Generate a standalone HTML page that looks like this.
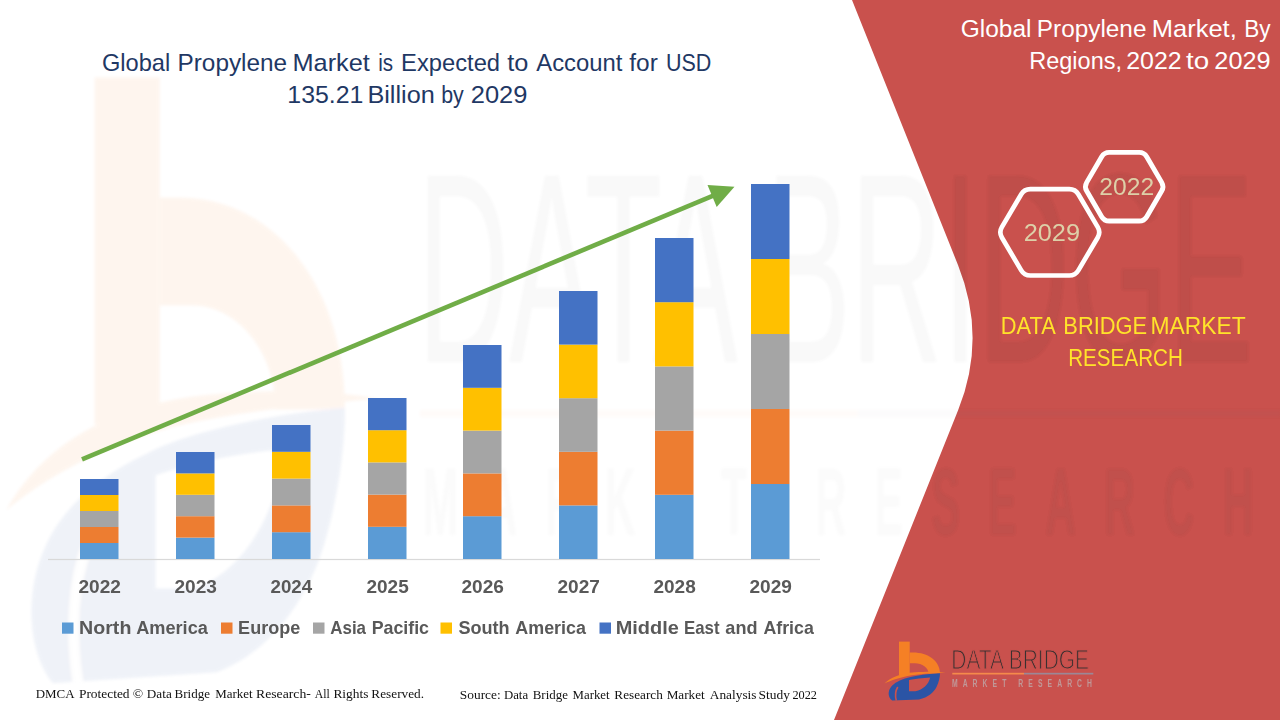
<!DOCTYPE html>
<html><head><meta charset="utf-8"><style>
html,body{margin:0;padding:0;background:#fff;}
body{width:1280px;height:720px;overflow:hidden;position:relative;font-family:"Liberation Sans",sans-serif;}
svg{position:absolute;left:0;top:0;}
</style></head><body>
<svg width="1280" height="720" viewBox="0 0 1280 720">
<defs><filter id="bl" x="-10%" y="-10%" width="120%" height="120%"><feGaussianBlur stdDeviation="1.8"/></filter></defs>
<rect width="1280" height="720" fill="#FFFFFF"/>
<!-- red panel -->
<path d="M852,0 L958,265 Q987.1,337.75 958.2,410 L834,720 L1280,720 L1280,0 Z" fill="#C9514D"/>
<!-- watermark -->
<g opacity="0.07" filter="url(#bl)"><g transform="matrix(6.11,0,0,10.1,-5398.39,-6392.73)">
<rect x="899" y="640.6" width="10.7" height="34.4" fill="#F58025"/>
<path d="M909.7,652.5 L913,652.5 C928,652.5 940,661 940,673.5 L928.6,673.5 C928.6,667.5 922,663.2 915,663.2 L909.7,663.2 Z" fill="#F58025"/>
<path d="M940,673.3 C930,673.8 915,675.5 907.8,677.8 C900,680 894,683 891,687 C887.5,691.5 888,697.5 892.2,700.6 L919,699.5 C928,697.5 934,692 936.5,687 C939,682 940,677 940,673.3 Z M909,680 L909,691.2 L915.5,691.2 C923,689.5 928.5,684.5 930.2,677.4 C922.5,677.8 915,678.7 909,680 Z" fill="#2B54A5" fill-rule="evenodd"/>
<path d="M897.8,687 C895.5,690.5 895,695.5 896.3,700.6" fill="none" stroke="#FFFFFF" stroke-width="1.6"/>
<path d="M884.5,683.5 C890,677.5 900,673.5 915,672.2 C928,671.3 938,671.6 945.5,672.4 C936,672.9 923,673.6 912,675.2 C900,677.2 891,680.2 884.5,683.5 Z" fill="#F58025"/>
</g></g>
<clipPath id="rc"><path d="M852,0 L958,265 Q987.1,337.75 958.2,410 L834,720 L1280,720 L1280,0 Z"/></clipPath>
<g clip-path="url(#rc)"><g opacity="0.035" filter="url(#bl)">
<rect x="858" y="410" width="423" height="7" fill="#6C5766"/>
<text transform="translate(417.3,362) scale(0.47,1)" font-family="Liberation Sans" font-size="270.6" fill="#402020">DATA BRIDGE</text>
<text transform="translate(422.4,535) scale(0.44,1)" font-family="Liberation Sans" font-weight="bold" font-size="97" fill="#402020" textLength="1889" lengthAdjust="spacing">MARKET RESEARCH</text>
</g></g>
<g opacity="0.035" filter="url(#bl)">
<rect x="420" y="410" width="438" height="7" fill="#F58A4B"/>
<rect x="858" y="410" width="423" height="7" fill="#9C8796"/>
<text transform="translate(417.3,362) scale(0.47,1)" font-family="Liberation Sans" font-size="270.6" fill="#404040">DATA BRIDGE</text>
<text transform="translate(422.4,535) scale(0.44,1)" font-family="Liberation Sans" font-weight="bold" font-size="97" fill="#7F7F7F" textLength="1889" lengthAdjust="spacing">MARKET RESEARCH</text>
</g>
<!-- axis -->
<rect x="48" y="558.9" width="772" height="1.2" fill="#D9D9D9"/>
<rect x="80" y="543.00" width="38.5" height="16.00" fill="#5B9BD5"/><rect x="80" y="527.00" width="38.5" height="16.00" fill="#ED7D31"/><rect x="80" y="511.00" width="38.5" height="16.00" fill="#A5A5A5"/><rect x="80" y="495.00" width="38.5" height="16.00" fill="#FFC000"/><rect x="80" y="479.00" width="38.5" height="16.00" fill="#4472C4"/><rect x="176" y="537.60" width="38.5" height="21.40" fill="#5B9BD5"/><rect x="176" y="516.20" width="38.5" height="21.40" fill="#ED7D31"/><rect x="176" y="494.80" width="38.5" height="21.40" fill="#A5A5A5"/><rect x="176" y="473.40" width="38.5" height="21.40" fill="#FFC000"/><rect x="176" y="452.00" width="38.5" height="21.40" fill="#4472C4"/><rect x="272" y="532.20" width="38.5" height="26.80" fill="#5B9BD5"/><rect x="272" y="505.40" width="38.5" height="26.80" fill="#ED7D31"/><rect x="272" y="478.60" width="38.5" height="26.80" fill="#A5A5A5"/><rect x="272" y="451.80" width="38.5" height="26.80" fill="#FFC000"/><rect x="272" y="425.00" width="38.5" height="26.80" fill="#4472C4"/><rect x="368" y="526.80" width="38.5" height="32.20" fill="#5B9BD5"/><rect x="368" y="494.60" width="38.5" height="32.20" fill="#ED7D31"/><rect x="368" y="462.40" width="38.5" height="32.20" fill="#A5A5A5"/><rect x="368" y="430.20" width="38.5" height="32.20" fill="#FFC000"/><rect x="368" y="398.00" width="38.5" height="32.20" fill="#4472C4"/><rect x="463" y="516.20" width="38.5" height="42.80" fill="#5B9BD5"/><rect x="463" y="473.40" width="38.5" height="42.80" fill="#ED7D31"/><rect x="463" y="430.60" width="38.5" height="42.80" fill="#A5A5A5"/><rect x="463" y="387.80" width="38.5" height="42.80" fill="#FFC000"/><rect x="463" y="345.00" width="38.5" height="42.80" fill="#4472C4"/><rect x="559" y="505.40" width="38.5" height="53.60" fill="#5B9BD5"/><rect x="559" y="451.80" width="38.5" height="53.60" fill="#ED7D31"/><rect x="559" y="398.20" width="38.5" height="53.60" fill="#A5A5A5"/><rect x="559" y="344.60" width="38.5" height="53.60" fill="#FFC000"/><rect x="559" y="291.00" width="38.5" height="53.60" fill="#4472C4"/><rect x="655" y="494.80" width="38.5" height="64.20" fill="#5B9BD5"/><rect x="655" y="430.60" width="38.5" height="64.20" fill="#ED7D31"/><rect x="655" y="366.40" width="38.5" height="64.20" fill="#A5A5A5"/><rect x="655" y="302.20" width="38.5" height="64.20" fill="#FFC000"/><rect x="655" y="238.00" width="38.5" height="64.20" fill="#4472C4"/><rect x="751" y="484.00" width="38.5" height="75.00" fill="#5B9BD5"/><rect x="751" y="409.00" width="38.5" height="75.00" fill="#ED7D31"/><rect x="751" y="334.00" width="38.5" height="75.00" fill="#A5A5A5"/><rect x="751" y="259.00" width="38.5" height="75.00" fill="#FFC000"/><rect x="751" y="184.00" width="38.5" height="75.00" fill="#4472C4"/>
<!-- arrow -->
<line x1="82" y1="459.4" x2="713.9" y2="195.3" stroke="#70AD47" stroke-width="4.6"/>
<path d="M734.5,186.7 L716.7,207.1 L707.5,185.0 Z" fill="#70AD47"/>
<!-- hexagons -->
<path d="M1001.85,237.47 Q998.80,232.30 1001.85,227.13 L1021.25,194.27 Q1024.30,189.10 1030.30,189.10 L1069.30,189.10 Q1075.30,189.10 1078.35,194.27 L1097.75,227.13 Q1100.80,232.30 1097.75,237.47 L1078.35,270.33 Q1075.30,275.50 1069.30,275.50 L1030.30,275.50 Q1024.30,275.50 1021.25,270.33 Z" fill="none" stroke="#FFFFFF" stroke-width="4.7"/>
<path d="M1086.72,191.02 Q1084.20,186.70 1086.72,182.38 L1101.68,156.72 Q1104.20,152.40 1109.20,152.40 L1139.20,152.40 Q1144.20,152.40 1146.72,156.72 L1161.68,182.38 Q1164.20,186.70 1161.68,191.02 L1146.72,216.68 Q1144.20,221.00 1139.20,221.00 L1109.20,221.00 Q1104.20,221.00 1101.68,216.68 Z" fill="none" stroke="#FFFFFF" stroke-width="4.9"/>
<!-- legend swatches -->
<rect x="62" y="622.5" width="11.5" height="11.2" fill="#5B9BD5"/><rect x="221" y="622.5" width="11.5" height="11.2" fill="#ED7D31"/><rect x="313" y="622.5" width="11.5" height="11.2" fill="#A5A5A5"/><rect x="440.5" y="622.5" width="11.5" height="11.2" fill="#FFC000"/><rect x="599.5" y="622.5" width="11.5" height="11.2" fill="#4472C4"/>
<!-- logo -->
<g>
<rect x="899" y="641.6" width="10.7" height="33.4" fill="#F58025"/>
<path d="M909.7,652.5 L913,652.5 C928,652.5 940,661 940,673.5 L928.6,673.5 C928.6,667.5 922,663.2 915,663.2 L909.7,663.2 Z" fill="#F58025"/>
<path d="M940,673.3 C930,673.8 915,675.5 907.8,677.8 C900,680 894,683 891,687 C887.5,691.5 888,697.5 892.2,700.6 L919,699.5 C928,697.5 934,692 936.5,687 C939,682 940,677 940,673.3 Z M909,680 L909,691.2 L915.5,691.2 C923,689.5 928.5,684.5 930.2,677.4 C922.5,677.8 915,678.7 909,680 Z" fill="#2B54A5" fill-rule="evenodd"/>
<path d="M897.8,687 C895.5,690.5 895,695.5 896.3,700.6" fill="none" stroke="#C9514D" stroke-width="1.6"/>
<path d="M884.5,683.5 C890,677.5 900,673.5 915,672.2 C928,671.3 938,671.6 945.5,672.4 C936,672.9 923,673.6 912,675.2 C900,677.2 891,680.2 884.5,683.5 Z" fill="#F58025"/>

<rect x="952.3" y="672.8" width="71.7" height="1.7" fill="#F58A4B"/>
<rect x="1024" y="672.8" width="69.3" height="1.7" fill="#9C8796"/>
<text transform="translate(951.3,669.3) scale(0.749,1)" font-family="Liberation Sans" font-size="28" fill="#3A3030" stroke="#C9514D" stroke-width="1.1">DATA BRIDGE</text>
<text transform="translate(951.9,686.6) scale(0.62,1)" font-family="Liberation Sans" font-weight="bold" font-size="11" fill="#C09898" textLength="226" lengthAdjust="spacing">MARKET RESEARCH</text>
</g>
<text transform="translate(101.92,70.70) scale(0.9764,1)" font-family="Liberation Sans" font-weight="normal" font-size="24.2" fill="#1F3864">Global</text><text transform="translate(177.55,70.70) scale(1.0056,1)" font-family="Liberation Sans" font-weight="normal" font-size="24.2" fill="#1F3864">Propylene</text><text transform="translate(292.47,70.70) scale(1.0475,1)" font-family="Liberation Sans" font-weight="normal" font-size="24.2" fill="#1F3864">Market</text><text transform="translate(378.27,70.70) scale(0.8498,1)" font-family="Liberation Sans" font-weight="normal" font-size="24.2" fill="#1F3864">is</text><text transform="translate(401.10,70.70) scale(0.9810,1)" font-family="Liberation Sans" font-weight="normal" font-size="24.2" fill="#1F3864">Expected</text><text transform="translate(507.25,70.70) scale(1.0490,1)" font-family="Liberation Sans" font-weight="normal" font-size="24.2" fill="#1F3864">to</text><text transform="translate(536.25,70.70) scale(0.9858,1)" font-family="Liberation Sans" font-weight="normal" font-size="24.2" fill="#1F3864">Account</text><text transform="translate(629.26,70.70) scale(1.0114,1)" font-family="Liberation Sans" font-weight="normal" font-size="24.2" fill="#1F3864">for</text><text transform="translate(665.99,70.70) scale(0.8888,1)" font-family="Liberation Sans" font-weight="normal" font-size="24.2" fill="#1F3864">USD</text><text transform="translate(287.36,102.50) scale(1.0280,1)" font-family="Liberation Sans" font-weight="normal" font-size="24.2" fill="#1F3864">135.21</text><text transform="translate(367.38,102.50) scale(1.0446,1)" font-family="Liberation Sans" font-weight="normal" font-size="24.2" fill="#1F3864">Billion</text><text transform="translate(441.22,102.50) scale(0.8836,1)" font-family="Liberation Sans" font-weight="normal" font-size="24.2" fill="#1F3864">by</text><text transform="translate(470.73,102.50) scale(1.0523,1)" font-family="Liberation Sans" font-weight="normal" font-size="24.2" fill="#1F3864">2029</text><text transform="translate(960.67,36.70) scale(1.0128,1)" font-family="Liberation Sans" font-weight="normal" font-size="24.2" fill="#FFFFFF">Global</text><text transform="translate(1036.80,36.70) scale(1.0065,1)" font-family="Liberation Sans" font-weight="normal" font-size="24.2" fill="#FFFFFF">Propylene</text><text transform="translate(1151.66,36.70) scale(1.0558,1)" font-family="Liberation Sans" font-weight="normal" font-size="24.2" fill="#FFFFFF">Market,</text><text transform="translate(1244.29,36.70) scale(0.9352,1)" font-family="Liberation Sans" font-weight="normal" font-size="24.2" fill="#FFFFFF">By</text><text transform="translate(1029.22,68.80) scale(0.9721,1)" font-family="Liberation Sans" font-weight="normal" font-size="24.2" fill="#FFFFFF">Regions,</text><text transform="translate(1126.25,68.80) scale(1.0309,1)" font-family="Liberation Sans" font-weight="normal" font-size="24.2" fill="#FFFFFF">2022</text><text transform="translate(1185.97,68.80) scale(1.1460,1)" font-family="Liberation Sans" font-weight="normal" font-size="24.2" fill="#FFFFFF">to</text><text transform="translate(1214.34,68.80) scale(1.0445,1)" font-family="Liberation Sans" font-weight="normal" font-size="24.2" fill="#FFFFFF">2029</text><text transform="translate(1099.37,195.10) scale(1.0496,1)" font-family="Liberation Sans" font-weight="normal" font-size="23.5" fill="#DDD0A8">2022</text><text transform="translate(1023.73,240.80) scale(1.0776,1)" font-family="Liberation Sans" font-weight="normal" font-size="23.5" fill="#DDD0A8">2029</text><text transform="translate(1000.85,334.00) scale(0.8910,1)" font-family="Liberation Sans" font-weight="normal" font-size="24.5" fill="#FFE32A">DATA</text><text transform="translate(1063.35,334.00) scale(0.8917,1)" font-family="Liberation Sans" font-weight="normal" font-size="24.5" fill="#FFE32A">BRIDGE</text><text transform="translate(1150.57,334.00) scale(0.9335,1)" font-family="Liberation Sans" font-weight="normal" font-size="24.5" fill="#FFE32A">MARKET</text><text transform="translate(1068.20,365.90) scale(0.8425,1)" font-family="Liberation Sans" font-weight="normal" font-size="24.5" fill="#FFE32A">RESEARCH</text><text transform="translate(35.74,697.70) scale(0.9723,1)" font-family="Liberation Serif" font-weight="normal" font-size="13.33" fill="#111111">DMCA</text><text transform="translate(78.93,697.70) scale(1.0072,1)" font-family="Liberation Serif" font-weight="normal" font-size="13.33" fill="#111111">Protected</text><text transform="translate(132.85,697.70) scale(1.0260,1)" font-family="Liberation Serif" font-weight="normal" font-size="13.33" fill="#111111">©</text><text transform="translate(146.84,697.70) scale(0.9901,1)" font-family="Liberation Serif" font-weight="normal" font-size="13.33" fill="#111111">Data</text><text transform="translate(174.54,697.70) scale(0.9758,1)" font-family="Liberation Serif" font-weight="normal" font-size="13.33" fill="#111111">Bridge</text><text transform="translate(215.24,697.70) scale(0.9724,1)" font-family="Liberation Serif" font-weight="normal" font-size="13.33" fill="#111111">Market</text><text transform="translate(256.03,697.70) scale(1.0308,1)" font-family="Liberation Serif" font-weight="normal" font-size="13.33" fill="#111111">Research-</text><text transform="translate(314.70,697.70) scale(0.8812,1)" font-family="Liberation Serif" font-weight="normal" font-size="13.33" fill="#111111">All</text><text transform="translate(333.43,697.70) scale(1.0070,1)" font-family="Liberation Serif" font-weight="normal" font-size="13.33" fill="#111111">Rights</text><text transform="translate(371.33,697.70) scale(0.9969,1)" font-family="Liberation Serif" font-weight="normal" font-size="13.33" fill="#111111">Reserved.</text><text transform="translate(459.80,698.90) scale(1.0056,1)" font-family="Liberation Serif" font-weight="normal" font-size="13.33" fill="#111111">Source:</text><text transform="translate(503.94,698.90) scale(0.9620,1)" font-family="Liberation Serif" font-weight="normal" font-size="13.33" fill="#111111">Data</text><text transform="translate(532.74,698.90) scale(0.9701,1)" font-family="Liberation Serif" font-weight="normal" font-size="13.33" fill="#111111">Bridge</text><text transform="translate(572.54,698.90) scale(0.9646,1)" font-family="Liberation Serif" font-weight="normal" font-size="13.33" fill="#111111">Market</text><text transform="translate(614.34,698.90) scale(0.9928,1)" font-family="Liberation Serif" font-weight="normal" font-size="13.33" fill="#111111">Research</text><text transform="translate(666.64,698.90) scale(0.9907,1)" font-family="Liberation Serif" font-weight="normal" font-size="13.33" fill="#111111">Market</text><text transform="translate(709.80,698.90) scale(1.0029,1)" font-family="Liberation Serif" font-weight="normal" font-size="13.33" fill="#111111">Analysis</text><text transform="translate(758.59,698.90) scale(1.0095,1)" font-family="Liberation Serif" font-weight="normal" font-size="13.33" fill="#111111">Study</text><text transform="translate(792.41,698.90) scale(0.9230,1)" font-family="Liberation Serif" font-weight="normal" font-size="13.33" fill="#111111">2022</text><text transform="translate(78.48,593.10) scale(1.0046,1)" font-family="Liberation Sans" font-weight="bold" font-size="19" fill="#595959">2022</text><text transform="translate(174.48,593.10) scale(1.0046,1)" font-family="Liberation Sans" font-weight="bold" font-size="19" fill="#595959">2023</text><text transform="translate(270.49,593.10) scale(0.9863,1)" font-family="Liberation Sans" font-weight="bold" font-size="19" fill="#595959">2024</text><text transform="translate(366.48,593.10) scale(1.0000,1)" font-family="Liberation Sans" font-weight="bold" font-size="19" fill="#595959">2025</text><text transform="translate(461.48,593.10) scale(1.0046,1)" font-family="Liberation Sans" font-weight="bold" font-size="19" fill="#595959">2026</text><text transform="translate(557.48,593.10) scale(1.0046,1)" font-family="Liberation Sans" font-weight="bold" font-size="19" fill="#595959">2027</text><text transform="translate(653.48,593.10) scale(1.0000,1)" font-family="Liberation Sans" font-weight="bold" font-size="19" fill="#595959">2028</text><text transform="translate(749.48,593.10) scale(1.0046,1)" font-family="Liberation Sans" font-weight="bold" font-size="19" fill="#595959">2029</text><text transform="translate(79.07,633.70) scale(1.0903,1)" font-family="Liberation Sans" font-weight="bold" font-size="18" fill="#595959">North</text><text transform="translate(136.14,633.70) scale(1.0108,1)" font-family="Liberation Sans" font-weight="bold" font-size="18" fill="#595959">America</text><text transform="translate(238.12,633.70) scale(1.0024,1)" font-family="Liberation Sans" font-weight="bold" font-size="18" fill="#595959">Europe</text><text transform="translate(330.26,633.70) scale(0.9404,1)" font-family="Liberation Sans" font-weight="bold" font-size="18" fill="#595959">Asia</text><text transform="translate(371.63,633.70) scale(0.9897,1)" font-family="Liberation Sans" font-weight="bold" font-size="18" fill="#595959">Pacific</text><text transform="translate(458.44,633.70) scale(1.0054,1)" font-family="Liberation Sans" font-weight="bold" font-size="18" fill="#595959">South</text><text transform="translate(515.34,633.70) scale(0.9946,1)" font-family="Liberation Sans" font-weight="bold" font-size="18" fill="#595959">America</text><text transform="translate(615.70,633.70) scale(1.1092,1)" font-family="Liberation Sans" font-weight="bold" font-size="18" fill="#595959">Middle</text><text transform="translate(683.99,633.70) scale(0.9353,1)" font-family="Liberation Sans" font-weight="bold" font-size="18" fill="#595959">East</text><text transform="translate(725.34,633.70) scale(1.0050,1)" font-family="Liberation Sans" font-weight="bold" font-size="18" fill="#595959">and</text><text transform="translate(763.44,633.70) scale(0.9880,1)" font-family="Liberation Sans" font-weight="bold" font-size="18" fill="#595959">Africa</text>
</svg>
</body></html>
